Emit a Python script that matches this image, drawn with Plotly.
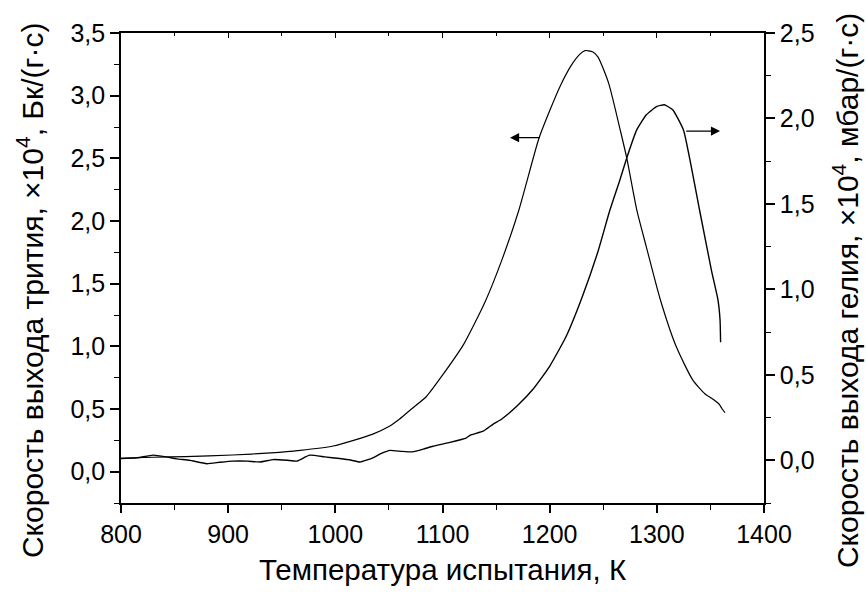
import plotly.graph_objects as go

# Tritium release rate (left axis), x10^4 Bq/(g*s)
tritium_T = [800, 830, 860, 904, 940, 967, 998, 1017, 1035, 1050, 1060, 1071, 1085, 1100,
             1120, 1140, 1155, 1171, 1190, 1200, 1210, 1220, 1228, 1233, 1240, 1245, 1255,
             1266, 1272, 1281.5, 1290, 1303, 1318, 1333.6, 1345, 1352, 1358, 1361, 1363.6]
tritium_v = [0.107, 0.115, 0.12, 0.133, 0.15, 0.17, 0.205, 0.25, 0.30, 0.36, 0.42, 0.50, 0.60, 0.77,
             1.02, 1.36, 1.68, 2.08, 2.66, 2.88, 3.08, 3.24, 3.33, 3.36, 3.35, 3.31, 3.1,
             2.72, 2.50, 2.08, 1.80, 1.38, 1.0, 0.73, 0.62, 0.58, 0.54, 0.50, 0.47]

# Helium release rate (right axis), x10^4 mbar/(g*s)
helium_T = [800, 815, 830, 842, 852, 864, 880, 892, 904, 918, 930, 942, 955, 964, 976, 990,
            1004, 1015, 1023, 1035, 1043, 1051, 1062, 1072, 1082, 1091, 1107, 1122, 1126, 1138,
            1147, 1155, 1170, 1185, 1200, 1215, 1230, 1245, 1256, 1265, 1272, 1281, 1290, 1300,
            1307, 1315, 1325, 1340, 1351, 1357, 1359, 1359.5]
helium_v = [0.01, 0.015, 0.03, 0.02, 0.008, 0.0, -0.02, -0.012, -0.005, -0.005, -0.01, 0.004,
            0.0, -0.005, 0.03, 0.02, 0.01, 0.0, -0.01, 0.014, 0.04, 0.058, 0.052, 0.049, 0.065,
            0.082, 0.105, 0.13, 0.147, 0.17, 0.21, 0.24, 0.32, 0.42, 0.55, 0.72, 0.95, 1.22, 1.46,
            1.63, 1.77, 1.93, 2.02, 2.07, 2.08, 2.05, 1.93, 1.46, 1.11, 0.94, 0.82, 0.69]

x_title = "Температура испытания, К"
y1_title = "Скорость выхода трития, ×10<sup>4</sup>, Бк/(г·с)"
y2_title = "Скорость выхода гелия, ×10<sup>4</sup>, мбар/(г·с)"

FONT = "Liberation Sans, Arial, sans-serif"
TICK_SIZE = 25
TITLE_SIZE = 29.5
YTITLE_SIZE = 30

fig = go.Figure()
fig.add_trace(go.Scatter(x=tritium_T, y=tritium_v, mode="lines", yaxis="y",
                         line=dict(color="black", width=1.2, shape="spline", smoothing=0.6),
                         showlegend=False, hoverinfo="skip"))
fig.add_trace(go.Scatter(x=helium_T, y=helium_v, mode="lines", yaxis="y2",
                         line=dict(color="black", width=1.4, shape="spline", smoothing=0.4),
                         showlegend=False, hoverinfo="skip"))
# invisible trace to register the top tick axis
fig.add_trace(go.Scatter(x=[None], y=[None], xaxis="x2", yaxis="y", showlegend=False,
                         hoverinfo="skip"))

axis_common = dict(showgrid=False, zeroline=False, linecolor="black", linewidth=1.6,
                   tickcolor="black", tickwidth=1.5, ticks="outside",
                   tickfont=dict(family=FONT, size=TICK_SIZE, color="black"))

fig.update_layout(
    width=866, height=592,
    margin=dict(l=121, r=102, t=33, b=89),
    paper_bgcolor="white", plot_bgcolor="white",
    separators=", ",
    font=dict(family=FONT, color="black"),
    xaxis=dict(range=[800, 1400], dtick=100, ticklen=8, mirror=True,
               minor=dict(dtick=50, ticklen=5, ticks="outside", tickcolor="black", tickwidth=1.2),
               title=dict(text=x_title, font=dict(family=FONT, size=TITLE_SIZE, color="black"), standoff=13),
               **axis_common),
    xaxis2=dict(range=[800, 1400], overlaying="x", side="top", dtick=100, ticks="inside",
                ticklen=5, tickcolor="black", tickwidth=1.2, showticklabels=False,
                showgrid=False, zeroline=False, showline=False,
                minor=dict(dtick=50, ticklen=3, ticks="inside", tickcolor="black", tickwidth=1)),
    yaxis=dict(range=[-0.25, 3.5], dtick=0.5, tick0=0, ticklen=9, tickformat=".1f",
               minor=dict(dtick=0.25, tick0=0, ticklen=5, ticks="outside", tickcolor="black", tickwidth=1.2),
               **axis_common),
    yaxis2=dict(range=[-0.25, 2.5], dtick=0.5, tick0=0, ticklen=9, tickformat=".1f",
                overlaying="y", side="right",
                minor=dict(dtick=0.25, tick0=0, ticklen=5, ticks="outside", tickcolor="black", tickwidth=1.2),
                **axis_common),
    annotations=[
        dict(x=1163, y=2.665, ax=1192, ay=2.665, xref="x", yref="y", axref="x", ayref="y",
             showarrow=True, arrowhead=2, arrowsize=1.4, arrowwidth=1.3, arrowcolor="black", text=""),
        dict(x=1359, y=1.926, ax=1326, ay=1.926, xref="x", yref="y2", axref="x", ayref="y2",
             showarrow=True, arrowhead=2, arrowsize=1.4, arrowwidth=1.3, arrowcolor="black", text=""),
        dict(text=y1_title, textangle=-90, showarrow=False, xref="paper", yref="paper",
             x=-0.1415, y=0.453, xanchor="center", yanchor="middle",
             font=dict(family=FONT, size=YTITLE_SIZE, color="black")),
        dict(text=y2_title, textangle=-90, showarrow=False, xref="paper", yref="paper",
             x=1.1275, y=0.453, xanchor="center", yanchor="middle",
             font=dict(family=FONT, size=YTITLE_SIZE, color="black")),
    ],
)

fig.write_html("out.html")
